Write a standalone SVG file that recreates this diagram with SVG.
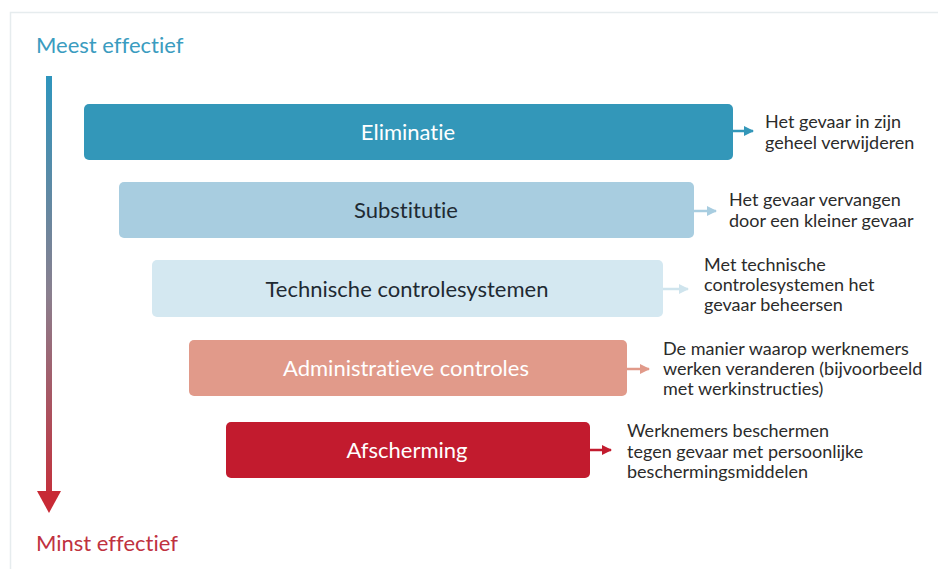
<svg xmlns="http://www.w3.org/2000/svg" width="938" height="569" viewBox="0 0 938 569">
<defs>
<linearGradient id="grad" x1="0" y1="76" x2="0" y2="513" gradientUnits="userSpaceOnUse">
<stop offset="0" stop-color="#2e95bd"/>
<stop offset="0.5" stop-color="#8a7f8e"/>
<stop offset="1" stop-color="#c82a35"/>
</linearGradient>
<marker id="a1" markerWidth="10" markerHeight="10" refX="9" refY="5" orient="auto" markerUnits="userSpaceOnUse"><path d="M0,0 L10,5 L0,10 Z" fill="#3397b9"/></marker>
<marker id="a2" markerWidth="10" markerHeight="10" refX="9" refY="5" orient="auto" markerUnits="userSpaceOnUse"><path d="M0,0 L10,5 L0,10 Z" fill="#a8cde0"/></marker>
<marker id="a3" markerWidth="10" markerHeight="10" refX="9" refY="5" orient="auto" markerUnits="userSpaceOnUse"><path d="M0,0 L10,5 L0,10 Z" fill="#cfe4ed"/></marker>
<marker id="a4" markerWidth="10" markerHeight="10" refX="9" refY="5" orient="auto" markerUnits="userSpaceOnUse"><path d="M0,0 L10,5 L0,10 Z" fill="#e19a8a"/></marker>
<marker id="a5" markerWidth="10" markerHeight="10" refX="9" refY="5" orient="auto" markerUnits="userSpaceOnUse"><path d="M0,0 L10,5 L0,10 Z" fill="#c21b2e"/></marker>
</defs>
<style>
text{font-variant-ligatures:none}
.lbl{font-family:Lato,"Open Sans","Liberation Sans",sans-serif;font-size:22px;text-anchor:middle}
.side{font-family:Lato,"Open Sans","Liberation Sans",sans-serif;font-size:18px;fill:#2b2b2b}
.ax{font-family:Lato,"Open Sans","Liberation Sans",sans-serif;font-size:22px}
.conn{stroke-width:2.5;fill:none}
</style>
<rect width="938" height="569" fill="#ffffff"/>
<path d="M10.5,569 V12.5 H938" fill="none" stroke="#e6ecee" stroke-width="1.5"/>
<g id="axis">
<text class="ax" x="36" y="53" fill="#3a9cc0">Meest effectief</text>
<rect x="46" y="76" width="6" height="418" fill="url(#grad)"/>
<path d="M37,491 L61,491 L49,513 Z" fill="#c82a35"/>
<text class="ax" x="36" y="551" fill="#c0323f">Minst effectief</text>
</g>
<g id="eliminatie">
<rect x="84" y="104" width="649" height="56" rx="5" fill="#3397b9"/>
<text class="lbl" x="408" y="140" fill="#ffffff">Eliminatie</text>
<text class="side" x="765" y="128">Het gevaar in zijn</text>
<text class="side" x="765" y="149">geheel verwijderen</text>
</g>
<g id="substitutie">
<rect x="119" y="182" width="575" height="56" rx="5" fill="#a8cde0"/>
<text class="lbl" x="406" y="218" fill="#1f2a33">Substitutie</text>
<text class="side" x="729" y="206">Het gevaar vervangen</text>
<text class="side" x="729" y="227">door een kleiner gevaar</text>
</g>
<g id="technisch">
<rect x="152" y="260" width="511" height="57" rx="5" fill="#d4e8f1"/>
<text class="lbl" x="407" y="297" fill="#1f2a33">Technische controlesystemen</text>
<text class="side" x="704" y="271">Met technische</text>
<text class="side" x="704" y="291">controlesystemen het</text>
<text class="side" x="704" y="311">gevaar beheersen</text>
</g>
<g id="administratief">
<rect x="189" y="340" width="438" height="56" rx="5" fill="#e19a8a"/>
<text class="lbl" x="406" y="376" fill="#ffffff">Administratieve controles</text>
<text class="side" x="663" y="355">De manier waarop werknemers</text>
<text class="side" x="663" y="375">werken veranderen (bijvoorbeeld</text>
<text class="side" x="663" y="395">met werkinstructies)</text>
</g>
<g id="afscherming">
<rect x="226" y="422" width="364" height="56" rx="5" fill="#c21b2e"/>
<text class="lbl" x="407" y="458" fill="#ffffff">Afscherming</text>
<text class="side" x="627" y="437">Werknemers beschermen</text>
<text class="side" x="627" y="458">tegen gevaar met persoonlijke</text>
<text class="side" x="627" y="478">beschermingsmiddelen</text>
</g>
<g id="connectors">
<line class="conn" x1="733" y1="131" x2="753" y2="131" stroke="#3397b9" marker-end="url(#a1)"/>
<line class="conn" x1="694" y1="211" x2="716" y2="211" stroke="#a8cde0" marker-end="url(#a2)"/>
<line class="conn" x1="663" y1="289" x2="688" y2="289" stroke="#cfe4ed" marker-end="url(#a3)"/>
<line class="conn" x1="627" y1="369" x2="649" y2="369" stroke="#e19a8a" marker-end="url(#a4)"/>
<line class="conn" x1="590" y1="450" x2="611" y2="450" stroke="#c21b2e" marker-end="url(#a5)"/>
</g>
</svg>
